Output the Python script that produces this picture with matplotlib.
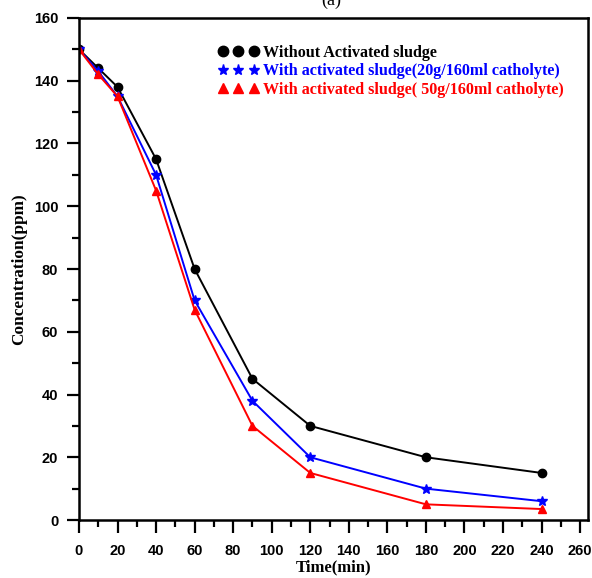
import matplotlib
matplotlib.use("Agg")
import matplotlib.pyplot as plt
from matplotlib.ticker import MultipleLocator

# Data
time_min = [0, 10, 20, 40, 60, 90, 120, 180, 240]
without_sludge = [150, 144, 138, 115, 80, 45, 30, 20, 15]
sludge_20g = [150, 143, 135, 110, 70, 38, 20, 10, 6]
sludge_50g = [150, 142, 135, 105, 67, 30, 15, 5, 3.5]

labels = ["Without Activated sludge",
          "With activated sludge(20g/160ml catholyte)",
          "With activated sludge( 50g/160ml catholyte)"]

fig = plt.figure(figsize=(5.92, 5.78), dpi=100)
ax = fig.add_axes([0.1334, 0.1003, 0.8596, 0.8686])

ax.plot(time_min, without_sludge, color='black', marker='o', markersize=6, lw=1.4, label=labels[0])
ax.plot(time_min, sludge_20g, color='blue', marker='*', markersize=7, lw=1.4, label=labels[1])
ax.plot(time_min, sludge_50g, color='red', marker='^', markersize=6, lw=1.4, label=labels[2])

ax.set_xlim(0, 264)
ax.set_ylim(0, 160)
ax.xaxis.set_major_locator(MultipleLocator(20))
ax.xaxis.set_minor_locator(MultipleLocator(10))
ax.yaxis.set_major_locator(MultipleLocator(20))
ax.yaxis.set_minor_locator(MultipleLocator(10))
ax.tick_params(which='major', direction='out', length=9, width=1.6, labelsize=10.5)
ax.tick_params(axis='x', which='major', pad=8)
ax.tick_params(axis='y', which='major', pad=6)
ax.tick_params(which='minor', direction='out', length=5, width=1.6)
for lab in ax.get_xticklabels() + ax.get_yticklabels():
    lab.set_fontweight('bold')
    lab.set_family('Liberation Sans')

for side in ['left', 'bottom', 'top', 'right']:
    ax.spines[side].set_linewidth(1.8)

serif = {'family': 'Liberation Serif', 'weight': 'bold'}
ax.set_xlabel('Time(min)', fontdict=serif, fontsize=12, labelpad=1)
ax.set_ylabel('Concentration(ppm)', fontdict=serif, fontsize=12.4, labelpad=5)

leg = ax.legend(loc='upper left', bbox_to_anchor=(0.245, 0.975), frameon=False,
                numpoints=3, handlelength=2.5, handletextpad=0.3, labelspacing=0.15,
                prop={'family': 'Liberation Serif', 'weight': 'bold', 'size': 11.6})
for line, ms in zip(leg.get_lines(), [7.5, 8, 7]):
    line.set_linestyle('')
    line.set_markersize(ms)
for txt, c in zip(leg.get_texts(), ['black', 'blue', 'red']):
    txt.set_color(c)

fig.text(0.56, 1 - 9 / 578, '(a)', ha='center', va='bottom', fontsize=13,
         family='Liberation Serif')

fig.savefig('out.png', dpi=100)
